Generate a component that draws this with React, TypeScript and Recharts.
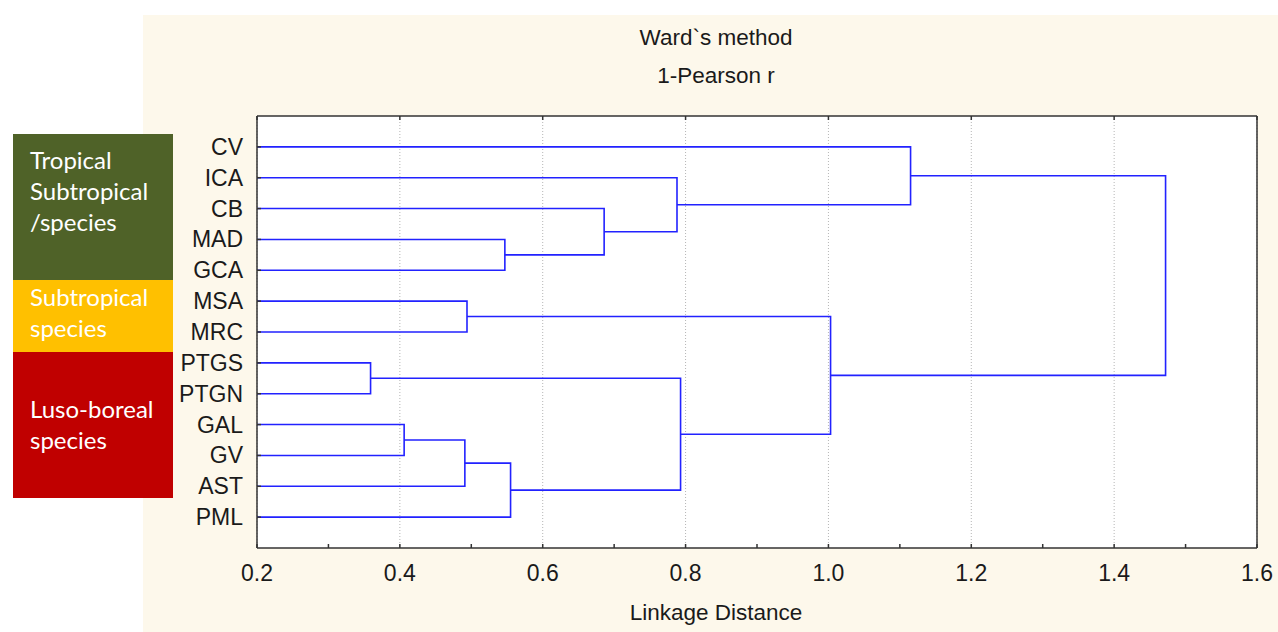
import React from 'react';
import {
  ComposedChart,
  Line,
  XAxis,
  YAxis,
  CartesianGrid,
} from 'recharts';

// leaves of the tree, top to bottom
const leaves = ['CV', 'ICA', 'CB', 'MAD', 'GCA', 'MSA', 'MRC', 'PTGS', 'PTGN', 'GAL', 'GV', 'AST', 'PML'];

// merge steps: n0, n1, ... (left child, right child, linkage distance)
const mergeLeft = ['MAD', 'CB', 'ICA', 'CV', 'MSA', 'PTGS', 'GAL', 'n6', 'n7', 'n5', 'n4', 'n3'];
const mergeRight = ['GCA', 'n0', 'n1', 'n2', 'MRC', 'PTGN', 'GV', 'AST', 'PML', 'n8', 'n9', 'n10'];
const mergeDist = [0.547, 0.686, 0.788, 1.115, 0.494, 0.359, 0.406, 0.491, 0.555, 0.793, 1.003, 1.472];

const xTicks = [0.2, 0.4, 0.6, 0.8, 1.0, 1.2, 1.4, 1.6];
const xMinorTicks = [0.3, 0.5, 0.7, 0.9, 1.1, 1.3, 1.5];

const groupLabels = [
  ['Tropical', 'Subtropical', '/species'],
  ['Subtropical', 'species'],
  ['Luso-boreal', 'species'],
];

const FONT = '"Liberation Sans", Arial, sans-serif';
const LINE = '#2222ff';

type Pt = { x: number; y: number };

const buildSegments = (): Pt[][] => {
  const nodes: Record<string, Pt> = {};
  leaves.forEach((name, i) => {
    nodes[name] = { x: 0.2, y: i };
  });
  const segs: Pt[][] = [];
  mergeDist.forEach((d, i) => {
    const a = nodes[mergeLeft[i]];
    const b = nodes[mergeRight[i]];
    segs.push([
      { x: a.x, y: a.y },
      { x: d, y: a.y },
      { x: d, y: b.y },
      { x: b.x, y: b.y },
    ]);
    nodes['n' + i] = { x: d, y: (a.y + b.y) / 2 };
  });
  return segs;
};

const segments = buildSegments();

const LeftTick = (props: any) => {
  const { x, y, payload } = props;
  return (
    <g>
      <text x={x} y={y + 8} textAnchor="end" fontSize={23} fontFamily={FONT} fill="#1a1a1a">
        {leaves[payload.value]}
      </text>
      <line x1={x + 14} x2={x + 18} y1={y} y2={y} stroke="#333" strokeWidth={1.5} />
    </g>
  );
};

const RightTick = (props: any) => {
  const { x, y } = props;
  return <line x1={x - 6} x2={x - 10} y1={y} y2={y} stroke="#333" strokeWidth={1.5} />;
};

const BottomTick = (props: any) => {
  const { x, y, payload } = props;
  const major = xTicks.some((t) => Math.abs(t - payload.value) < 1e-6);
  return (
    <g>
      <line x1={x} x2={x} y1={y - 10} y2={y - 14} stroke="#333" strokeWidth={1.5} />
      {major && (
        <text x={x} y={y + 22.5} textAnchor="middle" fontSize={23} fontFamily={FONT} fill="#1a1a1a">
          {Number(payload.value).toFixed(1)}
        </text>
      )}
    </g>
  );
};

const TopTick = (props: any) => {
  const { x, y } = props;
  return <line x1={x} x2={x} y1={y + 6} y2={y + 10} stroke="#333" strokeWidth={1.5} />;
};

const boxes = [
  { color: '#4f6228', top: 134, height: 146, pad: 10 },
  { color: '#ffc000', top: 280, height: 72, pad: 1 },
  { color: '#c00000', top: 352, height: 146, pad: 41 },
];

const titleStyle: React.CSSProperties = {
  position: 'absolute',
  left: 516,
  width: 400,
  textAlign: 'center',
  fontFamily: FONT,
  fontSize: 22.5,
  lineHeight: '28px',
  color: '#1a1a1a',
};

const App: React.FC = () => {
  return (
    <div style={{ position: 'absolute', left: 0, top: 0, width: 1278, height: 632, background: '#fff' }}>
      <div style={{ position: 'absolute', left: 143, top: 15, width: 1135, height: 617, background: '#fdf8eb' }} />
      {boxes.map((b, i) => (
        <div
          key={i}
          style={{
            position: 'absolute',
            left: 13,
            top: b.top,
            width: 160,
            height: b.height,
            background: b.color,
            boxSizing: 'border-box',
            paddingLeft: 17,
            paddingTop: b.pad,
            color: '#fff',
            fontFamily: 'Lato, "Open Sans", sans-serif',
            fontSize: 24,
            lineHeight: '31px',
          }}
        >
          {groupLabels[i].map((t) => (
            <div key={t}>{t}</div>
          ))}
        </div>
      ))}
      <div style={{ ...titleStyle, top: 24 }}>Ward`s method</div>
      <div style={{ ...titleStyle, top: 62 }}>1-Pearson r</div>
      <div style={{ ...titleStyle, top: 599 }}>Linkage Distance</div>
      <div style={{ position: 'absolute', left: 0, top: 0 }}>
        <ComposedChart width={1278} height={632} margin={{ top: 110, right: 11, bottom: 44, left: 197 }}>
          <CartesianGrid
            xAxisId="top"
            yAxisId="left"
            fill="#fff"
            horizontal={false}
            stroke="#b5b5b5"
            strokeDasharray="1 2"
          />
          <XAxis
            xAxisId="bottom"
            dataKey="x"
            type="number"
            orientation="bottom"
            domain={[0.2, 1.6]}
            allowDataOverflow
            ticks={[...xTicks, ...xMinorTicks].sort((a, b) => a - b)}
            interval={0}
            tick={<BottomTick />}
            tickLine={false}
            tickSize={6}
            tickMargin={4}
            height={40}
            axisLine={{ stroke: '#333', strokeWidth: 1.5 }}
          />
          <XAxis
            xAxisId="top"
            dataKey="x"
            type="number"
            orientation="top"
            domain={[0.2, 1.6]}
            allowDataOverflow
            ticks={xTicks}
            interval={0}
            tick={<TopTick />}
            tickLine={false}
            tickSize={6}
            tickMargin={0}
            height={6}
            axisLine={{ stroke: '#333', strokeWidth: 1.5 }}
          />
          <YAxis
            yAxisId="left"
            type="number"
            domain={[-1, 13]}
            reversed
            ticks={leaves.map((_, i) => i)}
            interval={0}
            tick={<LeftTick />}
            tickLine={false}
            tickSize={6}
            tickMargin={8}
            width={60}
            axisLine={{ stroke: '#333', strokeWidth: 1.5 }}
          />
          <YAxis
            yAxisId="right"
            orientation="right"
            type="number"
            domain={[-1, 13]}
            reversed
            ticks={leaves.map((_, i) => i)}
            interval={0}
            tick={<RightTick />}
            tickLine={false}
            tickSize={6}
            tickMargin={0}
            width={10}
            axisLine={{ stroke: '#333', strokeWidth: 1.5 }}
          />
          {segments.map((seg, i) => (
            <Line
              key={i}
              xAxisId="bottom"
              yAxisId="left"
              data={seg}
              dataKey="y"
              type="linear"
              stroke={LINE}
              strokeWidth={1.6}
              dot={false}
              activeDot={false}
              isAnimationActive={false}
            />
          ))}
        </ComposedChart>
      </div>
    </div>
  );
};

export default App;
